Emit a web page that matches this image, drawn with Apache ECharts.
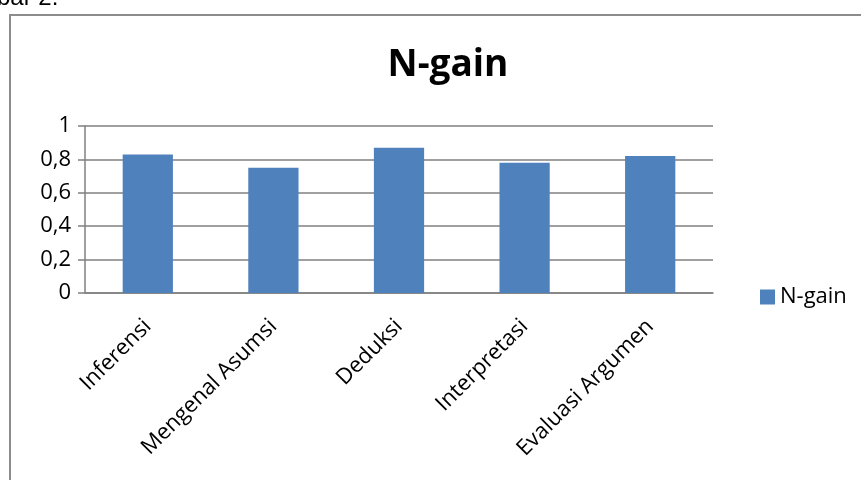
<!DOCTYPE html>
<html>
<head>
<meta charset="utf-8">
<script src="https://cdn.jsdelivr.net/npm/echarts@6/dist/echarts.min.js"></script>
<style>
    html, body { margin: 0; padding: 0; background: #fff; }
    #chart { width: 861px; height: 480px; }
</style>
</head>
<body>
<div id="chart"></div>
<script>
// data
const categories = ['Inferensi', 'Mengenal Asumsi', 'Deduksi', 'Interpretasi', 'Evaluasi Argumen'];
const ngain = [0.83, 0.75, 0.87, 0.78, 0.82];
const yTickLabels = ['0', '0,2', '0,4', '0,6', '0,8', '1'];

(function () {
    const myChart = echarts.init(document.getElementById('chart'));
    const font = '"Open Sans", sans-serif';
    const option = {
        animation: false,
        title: {
            text: 'N-gain',
            left: 443,
            top: 42,
            textAlign: 'center',
            textStyle: {
                fontFamily: font,
                fontSize: 37,
                fontWeight: 'bold',
                color: '#000'
            }
        },
        graphic: [
            {
                type: 'text',
                left: -55,
                top: -14,
                style: {
                    text: 'Gambar 2.',
                    font: '24px "Liberation Sans", sans-serif',
                    fill: '#000'
                }
            },
            {
                // border round the chart
                type: 'rect',
                shape: { x: 10, y: 15, width: 900, height: 500 },
                style: { fill: 'none', stroke: '#8c8c8c', lineWidth: 2 }
            }
        ],
        legend: {
            data: ['N-gain'],
            left: 755,
            top: 281,
            itemWidth: 15,
            itemHeight: 15,
            itemGap: 8,
            icon: 'rect',
            textStyle: {
                fontFamily: font,
                fontSize: 22,
                color: '#000'
            }
        },
        grid: {
            left: 85,
            right: 148,
            top: 126,
            bottom: 187
        },
        xAxis: {
            type: 'category',
            data: categories,
            axisLine: {
                lineStyle: { color: '#808080', width: 1.5 }
            },
            axisTick: {
                length: 7,
                lineStyle: { color: '#808080', width: 1.5 }
            },
            axisLabel: {
                interval: 0,
                rotate: 45,
                margin: 30,
                fontFamily: font,
                fontSize: 22,
                color: '#000'
            }
        },
        yAxis: {
            type: 'value',
            min: 0,
            max: 1,
            interval: 0.2,
            axisLine: {
                show: true,
                lineStyle: { color: '#808080', width: 1.5 }
            },
            axisTick: {
                show: true,
                length: 7,
                lineStyle: { color: '#808080', width: 1.5 }
            },
            axisLabel: {
                margin: 14,
                fontFamily: font,
                fontSize: 22,
                color: '#000',
                formatter: function (v) {
                    return yTickLabels[Math.round(v / 0.2)];
                }
            },
            splitLine: {
                lineStyle: { color: '#808080', width: 1.5 }
            }
        },
        series: [
            {
                name: 'N-gain',
                type: 'bar',
                barWidth: '40%',
                itemStyle: {
                    color: '#4f81bd'
                },
                data: ngain
            }
        ]
    };
    myChart.setOption(option);
    window.addEventListener('resize', () => {
        myChart.resize();
    })
})();
</script>
</body>
</html>
